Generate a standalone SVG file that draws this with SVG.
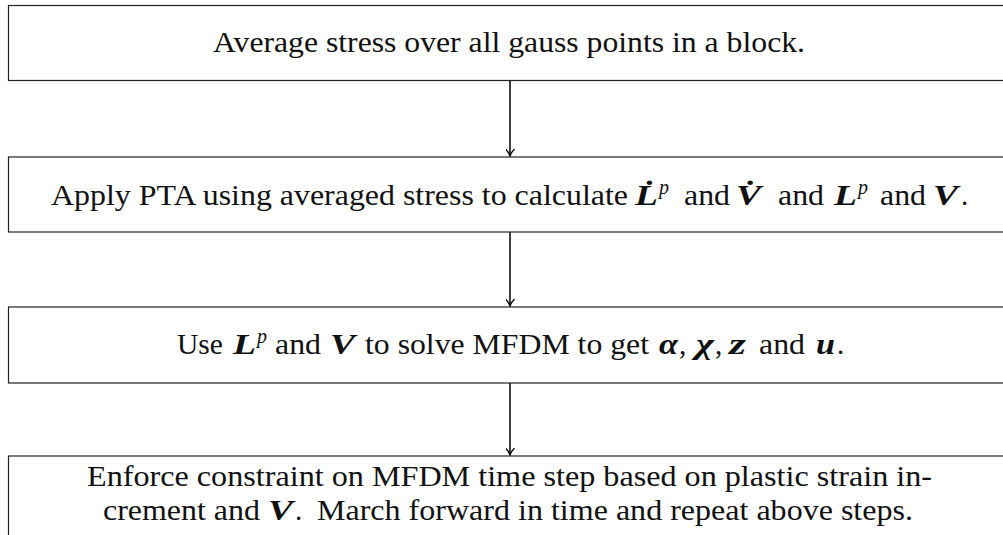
<svg xmlns="http://www.w3.org/2000/svg" width="1003" height="535" viewBox="0 0 1003 535">
<style>
text{font-family:'Liberation Serif','DejaVu Serif',serif;fill:#111}
.t{font-size:29px}
.m{font-size:29px;font-weight:bold;font-style:italic}
.s{font-size:20px;font-style:italic}
.box{fill:#fff;stroke:#222;stroke-width:1.2}
.c{stroke:#000;stroke-width:1.5;fill:none}
</style>
<defs>
<marker id="ah" markerUnits="userSpaceOnUse" markerWidth="14" markerHeight="14" refX="7" refY="10" orient="auto" viewBox="0 0 14 14">
<path d="M2.5,3 Q6,6.5 7,10 Q8,6.5 11.5,3" fill="none" stroke="#000" stroke-width="1.3" transform="rotate(-90 7 10)"/>
</marker>
</defs>
<rect width="1003" height="535" fill="#fff"/>
<g id="connectors">
<line class="c" x1="510" y1="81" x2="510" y2="156" marker-end="url(#ah)"/>
<line class="c" x1="510" y1="232" x2="510" y2="306" marker-end="url(#ah)"/>
<line class="c" x1="510" y1="383" x2="510" y2="455" marker-end="url(#ah)"/>
</g>
<g id="node1">
<rect class="box" x="8.5" y="5.5" width="1010" height="75"/>
<text class="t" x="213" y="52" textLength="592" lengthAdjust="spacingAndGlyphs">Average stress over all gauss points in a block.</text>
</g>
<g id="node2">
<rect class="box" x="8.5" y="157" width="1010" height="75"/>
<text class="t" x="51" y="205" textLength="577" lengthAdjust="spacingAndGlyphs">Apply PTA using averaged stress to calculate</text>
<text class="m" x="635" y="205" textLength="23" lengthAdjust="spacingAndGlyphs">L&#775;</text>
<text class="s" x="659" y="194">p</text>
<text class="t" x="684" y="205" textLength="46" lengthAdjust="spacingAndGlyphs">and</text>
<text class="m" x="736" y="205" textLength="25" lengthAdjust="spacingAndGlyphs">V&#775;</text>
<text class="t" x="778" y="205" textLength="46" lengthAdjust="spacingAndGlyphs">and</text>
<text class="m" x="834" y="205" textLength="23" lengthAdjust="spacingAndGlyphs">L</text>
<text class="s" x="858" y="194">p</text>
<text class="t" x="880" y="205" textLength="46" lengthAdjust="spacingAndGlyphs">and</text>
<text class="m" x="933" y="205" textLength="25" lengthAdjust="spacingAndGlyphs">V</text>
<text class="t" x="961" y="205">.</text>
</g>
<g id="node3">
<rect class="box" x="8.5" y="307" width="1010" height="76"/>
<text class="t" x="177" y="354" textLength="46" lengthAdjust="spacingAndGlyphs">Use</text>
<text class="m" x="233" y="354" textLength="23" lengthAdjust="spacingAndGlyphs">L</text>
<text class="s" x="257" y="343">p</text>
<text class="t" x="275" y="354" textLength="46" lengthAdjust="spacingAndGlyphs">and</text>
<text class="m" x="330" y="354" textLength="25" lengthAdjust="spacingAndGlyphs">V</text>
<text class="t" x="365" y="354" textLength="284" lengthAdjust="spacingAndGlyphs">to solve MFDM to get</text>
<text class="m" x="659" y="354" textLength="19" lengthAdjust="spacingAndGlyphs">α</text>
<text class="t" x="679" y="354">,</text>
<text class="m" x="696" y="354" textLength="18" lengthAdjust="spacingAndGlyphs">χ</text>
<text class="t" x="715" y="354">,</text>
<text class="m" x="729" y="354" textLength="17" lengthAdjust="spacingAndGlyphs">z</text>
<text class="t" x="759" y="354" textLength="46" lengthAdjust="spacingAndGlyphs">and</text>
<text class="m" x="816" y="354" textLength="19" lengthAdjust="spacingAndGlyphs">u</text>
<text class="t" x="837" y="354">.</text>
</g>
<g id="node4">
<rect class="box" x="8.5" y="456" width="1010" height="100"/>
<text class="t" x="87" y="486" textLength="845" lengthAdjust="spacingAndGlyphs">Enforce constraint on MFDM time step based on plastic strain in-</text>
<text class="t" x="103" y="520" textLength="157" lengthAdjust="spacingAndGlyphs">crement and</text>
<text class="m" x="268" y="520" textLength="25" lengthAdjust="spacingAndGlyphs">V</text>
<text class="t" x="295" y="520">.</text>
<text class="t" x="317" y="520" textLength="596" lengthAdjust="spacingAndGlyphs">March forward in time and repeat above steps.</text>
</g>
</svg>
